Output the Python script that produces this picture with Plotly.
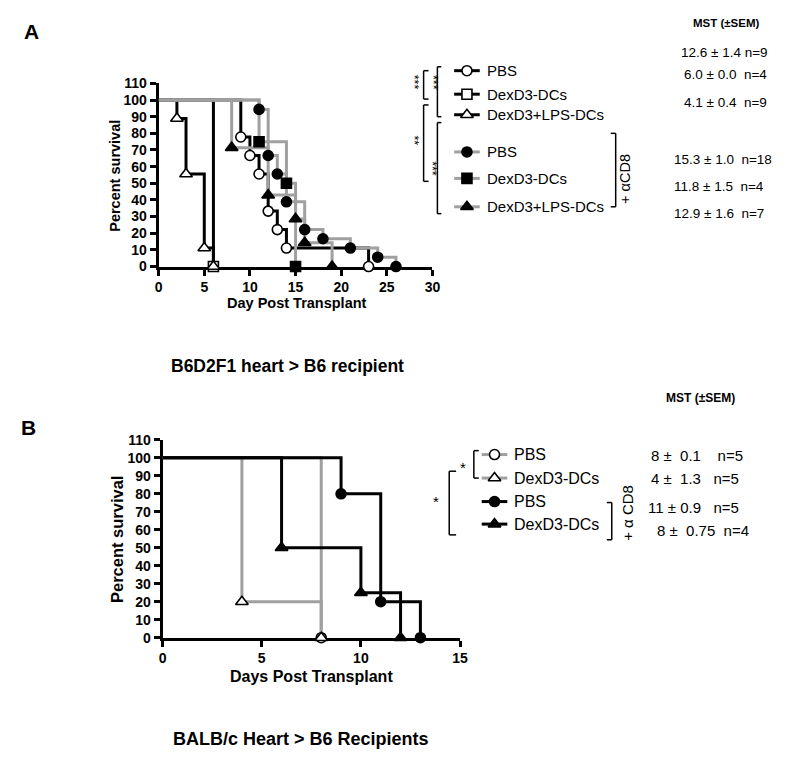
import plotly.graph_objects as go

W, H = 800, 773
FONT = "Liberation Sans, Arial, sans-serif"
GRAY = "#a0a0a0"

# ---- Panel A : B6D2F1 heart > B6 recipient (day of event, % survival after event)
a_pbs_days = [9, 10, 11, 12, 13, 14, 23]
a_pbs_surv = [77.8, 66.7, 55.6, 33.3, 22.2, 11.1, 0]
a_dex_days = [6]
a_dex_surv = [0]
a_lps_days = [2, 3, 5, 6]
a_lps_surv = [88.9, 55.6, 11.1, 0]
a_pbs_cd8_days = [11, 12, 13, 14, 16, 18, 21, 24, 26]
a_pbs_cd8_surv = [94.4, 66.7, 55.6, 38.9, 22.2, 16.7, 11.1, 5.6, 0]
a_dex_cd8_days = [11, 14, 15]
a_dex_cd8_surv = [75, 50, 0]
a_lps_cd8_days = [8, 12, 15, 16, 19]
a_lps_cd8_surv = [71.4, 42.9, 28.6, 14.3, 0]

a_labels = ["PBS", "DexD3-DCs", "DexD3+LPS-DCs", "PBS", "DexD3-DCs", "DexD3+LPS-DCs"]
a_mst = ["12.6 ± 1.4 n=9", "6.0 ± 0.0  n=4", "4.1 ± 0.4  n=9",
         "15.3 ± 1.0  n=18", "11.8 ± 1.5  n=4", "12.9 ± 1.6  n=7"]

# ---- Panel B : BALB/c Heart > B6 Recipients
b_pbs_days = [8]
b_pbs_surv = [0]
b_dex_days = [4, 8]
b_dex_surv = [20, 0]
b_pbs_cd8_days = [9, 11, 13]
b_pbs_cd8_surv = [80, 20, 0]
b_dex_cd8_days = [6, 10, 12]
b_dex_cd8_surv = [50, 25, 0]

b_labels = ["PBS", "DexD3-DCs", "PBS", "DexD3-DCs"]
b_mst = ["8 ±  0.1    n=5", "4 ±  1.3   n=5", "11 ± 0.9   n=5", "8 ±  0.75  n=4"]


def px(x):
    return x / W


def py(y):
    return 1 - y / H


# series: days, survival, symbol, marker fill, line colour
series_a = [
    (a_pbs_days, a_pbs_surv, "circle", "white", "black"),
    (a_dex_days, a_dex_surv, "square", "white", "black"),
    (a_lps_days, a_lps_surv, "triangle-up", "white", "black"),
    (a_pbs_cd8_days, a_pbs_cd8_surv, "circle", "black", GRAY),
    (a_dex_cd8_days, a_dex_cd8_surv, "square", "black", GRAY),
    (a_lps_cd8_days, a_lps_cd8_surv, "triangle-up", "black", GRAY),
]
series_b = [
    (b_pbs_days, b_pbs_surv, "circle", "white", GRAY),
    (b_dex_days, b_dex_surv, "triangle-up", "white", GRAY),
    (b_pbs_cd8_days, b_pbs_cd8_surv, "circle", "black", "black"),
    (b_dex_cd8_days, b_dex_cd8_surv, "triangle-up", "black", "black"),
]


def msize(sym):
    return 11 if sym == "triangle-up" else 10


fig = go.Figure()

for series, xa, ya in [(series_a, "x", "y"), (series_b, "x2", "y2")]:
    # step lines first, markers on top
    for days, surv, sym, fill, col in series:
        fig.add_trace(go.Scatter(
            x=[0] + days, y=[100] + surv, mode="lines",
            line=dict(color=col, width=3, shape="hv"),
            xaxis=xa, yaxis=ya, showlegend=False, hoverinfo="skip",
        ))
    for days, surv, sym, fill, col in series:
        fig.add_trace(go.Scatter(
            x=days, y=surv, mode="markers", cliponaxis=False,
            marker=dict(symbol=sym, size=msize(sym), color=fill,
                        line=dict(color="black", width=1.6)),
            xaxis=xa, yaxis=ya, showlegend=False,
        ))

shapes = []
annotations = []


def text(x, y, s, size, bold=False, anchor="left", angle=0, color="black"):
    annotations.append(dict(
        x=px(x), y=py(y), xref="paper", yref="paper", text=s.replace("  ", "\u00a0\u00a0"),
        showarrow=False, xanchor=anchor, yanchor="middle", textangle=angle,
        font=dict(family=FONT, size=size, color=color, weight="bold" if bold else "normal"),
    ))


def seg(x0, y0, x1, y1, color="black", width=1.5):
    shapes.append(dict(type="line", xref="paper", yref="paper",
                       x0=px(x0), y0=py(y0), x1=px(x1), y1=py(y1), layer="below",
                       line=dict(color=color, width=width)))


def bracket(x, y0, y1, tick):
    seg(x + tick, y0, x, y0)
    seg(x, y0, x, y1)
    seg(x, y1, x + tick, y1)


# legend A
rows_a = [64, 88, 109, 147, 174, 203]
for (days, surv, sym, fill, col), lab, ry in zip(series_a, a_labels, rows_a):
    seg(457, ry, 483, ry, color=col, width=3)
    fig.add_trace(go.Scatter(
        x=[470], y=[ry], mode="markers", xaxis="x3", yaxis="y3", showlegend=False,
        marker=dict(symbol=sym, size=msize(sym), color=fill, line=dict(color="black", width=1.6)),
    ))
    text(488, ry, lab, 15)

# legend B
rows_b = [456, 480, 504, 527]
for (days, surv, sym, fill, col), lab, ry in zip(series_b, b_labels, rows_b):
    seg(485, ry, 511, ry, color=col, width=3)
    fig.add_trace(go.Scatter(
        x=[498], y=[ry], mode="markers", xaxis="x3", yaxis="y3", showlegend=False,
        marker=dict(symbol=sym, size=msize(sym), color=fill, line=dict(color="black", width=1.6)),
    ))
    text(516, ry, lab, 16)

# significance brackets A (vertical asterisk stacks)
bracket(426, 64, 93, 5)
bracket(440, 60, 111, 4)
bracket(426, 99, 177, 5)
bracket(440, 117, 210, 4)
bracket(621, 128, 203, -5)
text(416, 76, "***", 12.5, angle=90, anchor="center")
text(435, 76, "***", 12.5, angle=90, anchor="center")
text(416, 135, "**", 12.5, angle=90, anchor="center")
text(435, 164, "***", 12.5, angle=90, anchor="center")
text(631, 175, "+ αCD8", 14.5, angle=-90, anchor="center")

# significance brackets B
bracket(477, 452, 480, 5)
bracket(452, 473, 538, 7)
bracket(617, 505, 543, -5)
text(466, 469, "*", 15, anchor="center")
text(439, 504, "*", 15, anchor="center")
text(633, 516, "+ α CD8", 15, angle=-90, anchor="center")

# MST columns
text(734, 15, "MST (±SEM)", 11.5, bold=True, anchor="center")
for s, (x, y) in zip(a_mst, [(685, 45), (688, 68), (688, 97), (678, 155), (678, 182), (678, 210)]):
    text(x, y, s, 13.5)
text(707, 398, "MST (±SEM)", 12, bold=True, anchor="center")
for s, (x, y) in zip(b_mst, [(655, 457), (655, 480), (652, 510), (661, 534)]):
    text(x, y, s, 15)

# panel letters, titles, axis titles
text(28, 24, "A", 21, bold=True, anchor="center")
text(25, 428, "B", 21, bold=True, anchor="center")
text(297, 301, "Day Post Transplant", 14.5, bold=True, anchor="center")
text(113, 171, "Percent survival", 14.5, bold=True, anchor="center", angle=-90)
text(288, 366, "B6D2F1 heart > B6 recipient", 17.5, bold=True, anchor="center")
text(312, 683, "Days Post Transplant", 16, bold=True, anchor="center")
text(115, 542, "Percent survival", 16.5, bold=True, anchor="center", angle=-90)
text(302, 746, "BALB/c Heart > B6 Recipients", 18, bold=True, anchor="center")

axis_style = dict(
    showline=True, linewidth=3, linecolor="black", ticks="outside", ticklen=6,
    tickwidth=3, tickcolor="black", showgrid=False, zeroline=False, layer="below traces",
    tickfont=dict(family=FONT, size=14, color="black", weight="bold"), fixedrange=True,
)

fig.update_layout(
    width=W, height=H, margin=dict(l=0, r=0, t=0, b=0),
    paper_bgcolor="white", plot_bgcolor="rgba(0,0,0,0)", showlegend=False,
    xaxis=dict(domain=[px(157), px(435)], range=[0, 30], tickvals=[0, 5, 10, 15, 20, 25, 30],
               anchor="y", **axis_style),
    yaxis=dict(domain=[py(264), py(77)], range=[0, 110], tickvals=list(range(0, 111, 10)),
               anchor="x", **axis_style),
    xaxis2=dict(domain=[px(161), px(463)], range=[0, 15], tickvals=[0, 5, 10, 15],
                anchor="y2", **axis_style),
    yaxis2=dict(domain=[py(643), py(441)], range=[0, 110], tickvals=list(range(0, 111, 10)),
                anchor="x2", **axis_style),
    xaxis3=dict(domain=[0, 1], range=[0, W], visible=False, anchor="y3", fixedrange=True),
    yaxis3=dict(domain=[0, 1], range=[H, 0], visible=False, anchor="x3", fixedrange=True),
    shapes=shapes, annotations=annotations,
)

# page margin off so the 800x773 figure fills the window exactly
fig.write_html("out.html", config={"displayModeBar": False},
               post_script="document.body.style.margin='0';")
